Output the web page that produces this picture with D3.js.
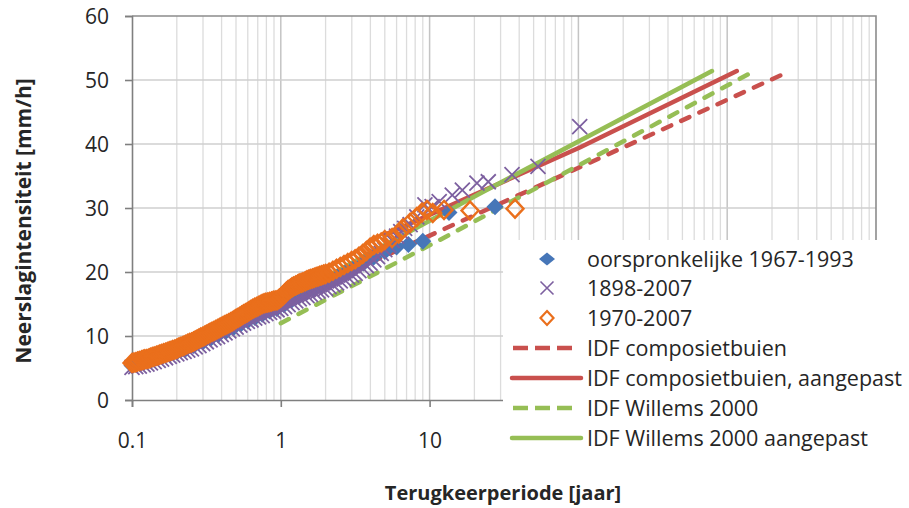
<!DOCTYPE html>
<html><head><meta charset="utf-8">
<script src="https://cdn.jsdelivr.net/npm/d3@7"></script>
<style>
body{margin:0;background:#fff}
svg text{font-family:"Open Sans","Liberation Sans",sans-serif;fill:#262626}
</style>
</head><body>
<svg id="chart" width="909" height="508"></svg>
<script>
// ---- data (return period T [jaar], intensity [mm/h]) ----
const seriesNames = ["oorspronkelijke 1967-1993","1898-2007","1970-2007","IDF composietbuien","IDF composietbuien, aangepast","IDF Willems 2000","IDF Willems 2000 aangepast"];

const origT = [0.10,0.12,0.14,0.16,0.18,0.20,0.23,0.26,0.30,0.34,0.38,0.43,0.48,0.54,0.60,0.67,0.75,0.84,0.94,1.05,1.18,1.32,1.48,1.66,1.86,2.1,2.4,2.7,3.1,3.6,4.2,5.0,6.0,7.2,9.0,13.5,27.5];
const origV = [5.4,5.9,6.4,6.8,7.2,7.5,8.0,8.5,9.1,9.7,10.2,10.8,11.3,11.9,12.4,12.9,13.4,13.9,14.3,14.9,15.6,16.2,16.8,17.4,17.9,18.5,19.2,19.8,20.6,21.4,22.3,23.2,23.9,24.3,24.8,29.3,30.2];

const longT = [0.100,0.106,0.112,0.119,0.126,0.133,0.141,0.150,0.158,0.168,0.178,0.188,0.200,0.211,0.224,0.237,0.251,0.266,0.282,0.299,0.316,0.335,0.355,0.376,0.398,0.422,0.447,0.473,0.501,0.531,0.562,0.596,0.631,0.668,0.708,0.750,0.794,0.841,0.891,0.944,1.00,1.06,1.12,1.19,1.26,1.33,1.41,1.50,1.58,1.68,1.78,1.88,2.00,2.11,2.24,2.37,2.51,2.66,2.82,2.99,3.16,3.35,3.55,3.76,3.98,4.22,4.47,4.73,5.0,5.3,5.6,6.0,6.4,6.8,7.4,8.2,9.3,10.4,11.6,14.2,16.6,20.8,24.8,35.8,53.5,102];
const longV = [5.1,5.2,5.3,5.5,5.6,5.8,6.0,6.2,6.4,6.6,6.8,7.0,7.2,7.4,7.6,7.8,8.0,8.3,8.5,8.8,9.1,9.4,9.7,9.9,10.2,10.5,10.8,11.1,11.4,11.7,12.0,12.3,12.5,12.8,13.0,13.2,13.5,13.7,13.9,14.1,14.3,14.6,14.9,15.2,15.5,15.8,16.0,16.3,16.5,16.8,17.0,17.2,17.4,17.7,18.0,18.3,18.6,18.9,19.2,19.5,19.8,20.2,20.6,21.0,21.4,21.9,22.4,22.9,23.5,24.2,24.9,25.6,26.3,26.8,27.4,28.6,30.5,30.2,31.0,32.0,32.8,33.9,34.1,35.2,36.5,42.7];

const recentT = [0.100,0.103,0.106,0.109,0.112,0.116,0.119,0.122,0.126,0.130,0.133,0.137,0.141,0.146,0.150,0.154,0.158,0.163,0.168,0.173,0.178,0.183,0.188,0.194,0.200,0.205,0.211,0.218,0.224,0.230,0.237,0.244,0.251,0.259,0.266,0.274,0.282,0.290,0.299,0.308,0.316,0.326,0.335,0.345,0.355,0.365,0.376,0.387,0.398,0.410,0.422,0.434,0.447,0.460,0.473,0.487,0.501,0.516,0.531,0.546,0.562,0.579,0.596,0.613,0.631,0.649,0.668,0.688,0.708,0.729,0.750,0.772,0.794,0.817,0.841,0.866,0.891,0.917,0.944,0.972,1.00,1.03,1.06,1.09,1.12,1.16,1.19,1.22,1.26,1.30,1.33,1.37,1.41,1.46,1.50,1.54,1.58,1.63,1.68,1.73,1.78,1.83,1.88,1.94,2.00,2.11,2.24,2.37,2.51,2.66,2.82,2.99,3.16,3.35,3.55,3.76,3.98,4.22,4.47,4.73,5.0,5.6,6.2,6.6,7.4,8.2,8.9,9.6,10.5,12.5,18.7,37.5];
const recentV = [5.8,5.85,5.9,6.0,6.1,6.2,6.3,6.35,6.4,6.5,6.6,6.7,6.8,6.9,7.0,7.1,7.2,7.3,7.4,7.5,7.6,7.7,7.8,7.9,8.0,8.15,8.3,8.4,8.5,8.65,8.8,8.9,9.0,9.15,9.3,9.45,9.6,9.75,9.9,10.05,10.2,10.35,10.5,10.65,10.8,10.95,11.1,11.25,11.4,11.55,11.7,11.85,12.0,12.15,12.3,12.5,12.7,12.85,13.0,13.2,13.4,13.55,13.7,13.9,14.1,14.25,14.4,14.55,14.7,14.85,15.0,15.1,15.2,15.25,15.3,15.4,15.5,15.55,15.6,15.8,16.0,16.3,16.6,16.9,17.2,17.4,17.6,17.75,17.9,18.05,18.2,18.3,18.4,18.55,18.7,18.8,18.9,19.0,19.1,19.2,19.3,19.4,19.5,19.6,19.7,19.9,20.2,20.5,20.8,21.1,21.4,21.7,22.0,22.4,22.8,23.3,23.8,24.2,24.4,24.6,25.0,25.3,26.0,26.8,27.7,28.6,29.3,29.7,29.2,29.7,29.6,29.9];

const compT = [1, 103, 2640];       const compV = [15.1, 36.4, 51.4];
const compAdjT = [5, 103, 1160];    const compAdjV = [25.8, 39.5, 51.4];
const willT = [1, 11.7, 1490];      const willV = [12.0, 25.0, 51.3];
const willAdjT = [2, 21.5, 790];    const willAdjV = [19.2, 32.2, 51.4];

const xTicks = [0.1, 1, 10, 100, 1000, 10000];
const xTickLabels = ["0.1", "1", "10"];
const yTicks = [0, 10, 20, 30, 40, 50, 60];

// ---- styles ----
const C = {blue:"#4676B8", purple:"#7D60A0", orange:"#EA6F1C", red:"#C9504D", green:"#96BE55"};

const svg = d3.select("#chart");
const x = d3.scaleLog().domain([0.1, 10000]).range([132, 876]);
const y = d3.scaleLinear().domain([0, 60]).range([400, 16]);

// grid
const grid = svg.append("g");
const minor = [];
[0.1, 1, 10, 100, 1000].forEach(d => { for (let k = 2; k <= 9; k++) minor.push(d * k); });
grid.selectAll(".vmin").data(minor).join("line")
  .attr("x1", d => x(d)).attr("x2", d => x(d)).attr("y1", y(60)).attr("y2", y(0))
  .attr("stroke", "#dcdcdc").attr("stroke-width", 1.3);
grid.selectAll(".vmaj").data([1, 10, 100, 1000]).join("line")
  .attr("x1", d => x(d)).attr("x2", d => x(d)).attr("y1", y(60)).attr("y2", y(0))
  .attr("stroke", "#c4c4c4").attr("stroke-width", 1.5);
grid.selectAll(".h").data(yTicks.slice(1, 6)).join("line")
  .attr("x1", x(0.1)).attr("x2", x(10000)).attr("y1", d => y(d)).attr("y2", d => y(d))
  .attr("stroke", "#cfcfcf").attr("stroke-width", 1.5);
svg.append("path").attr("d", `M${x(0.1)},${y(60)}H${x(10000)}V${y(0)}`)
  .attr("fill", "none").attr("stroke", "#8c8c8c").attr("stroke-width", 1.6);

// axes
const yAxis = d3.axisLeft(y).tickValues(yTicks).tickSize(7).tickPadding(16).tickFormat(d3.format("d"));
const gy = svg.append("g").attr("transform", `translate(${x(0.1)},0)`).call(yAxis);
const xAxis = d3.axisBottom(x).tickValues(xTicks).tickSize(7).tickPadding(26)
  .tickFormat((d, i) => xTickLabels[i] || "");
const gx = svg.append("g").attr("transform", `translate(0,${y(0)})`).call(xAxis);
[gx, gy].forEach(g => {
  g.select(".domain").attr("stroke", "#7f7f7f").attr("stroke-width", 1.6);
  g.selectAll(".tick line").attr("stroke", "#7f7f7f").attr("stroke-width", 1.6);
  g.selectAll(".tick text").style("font-size", "21px").attr("fill", "#3a3a3a");
});
gy.selectAll(".tick text").attr("dy", "0.36em");
gx.selectAll(".tick").filter((d, i) => !xTickLabels[i]).select("text").remove();

// IDF lines
const line = d3.line().x(d => x(d[0])).y(d => y(d[1]));
const lines = [
  {T: compT, V: compV, c: C.red, dash: "9,11"},
  {T: compAdjT, V: compAdjV, c: C.red, dash: null},
  {T: willT, V: willV, c: C.green, dash: "9,11"},
  {T: willAdjT, V: willAdjV, c: C.green, dash: null}
];
lines.forEach(l => {
  svg.append("path").datum(l.T.map((t, i) => [t, l.V[i]]))
    .attr("d", line).attr("fill", "none").attr("stroke", l.c).attr("stroke-width", 4.5)
    .attr("stroke-linecap", "round").attr("stroke-dasharray", l.dash);
});

// markers
function diamond(w, h) { return `M0,${-h}L${w},0L0,${h}L${-w},0Z`; }
function cross(s) { return `M${-s},${-s}L${s},${s}M${-s},${s}L${s},${-s}`; }

svg.append("g").selectAll("path").data(origT.map((t, i) => [t, origV[i]])).join("path")
  .attr("transform", d => `translate(${x(d[0])},${y(d[1])})`)
  .attr("d", diamond(8.5, 8.5)).attr("fill", C.blue);
svg.append("g").selectAll("path").data(longT.map((t, i) => [t, longV[i]])).join("path")
  .attr("transform", d => `translate(${x(d[0])},${y(d[1])})`)
  .attr("d", cross(7.5)).attr("fill", "none").attr("stroke", C.purple).attr("stroke-width", 1.8);
svg.append("g").selectAll("path").data(recentT.map((t, i) => [t, recentV[i]])).join("path")
  .attr("transform", d => `translate(${x(d[0])},${y(d[1])})`)
  .attr("d", diamond(8.5, 9)).attr("fill", "none").attr("stroke", C.orange).attr("stroke-width", 2.4);

// legend
const lg = svg.append("g");
lg.append("rect").attr("x", 503).attr("y", 240).attr("width", 406).attr("height", 222).attr("fill", "#fff");
const rowsY = [259, 288, 318, 348, 378, 408, 438];
const items = [
  {type: "diamond"}, {type: "cross"}, {type: "open"},
  {type: "line", c: C.red, dash: true}, {type: "line", c: C.red},
  {type: "line", c: C.green, dash: true}, {type: "line", c: C.green}
];
items.forEach((it, i) => {
  const cy = rowsY[i];
  const g = lg.append("g");
  if (it.type === "diamond") g.append("path").attr("transform", `translate(547,${cy})`).attr("d", diamond(8, 6.5)).attr("fill", C.blue);
  if (it.type === "cross") g.append("path").attr("transform", `translate(547,${cy})`).attr("d", cross(6.5)).attr("stroke", C.purple).attr("stroke-width", 1.6).attr("fill", "none");
  if (it.type === "open") g.append("path").attr("transform", `translate(547,${cy})`).attr("d", diamond(6.5, 7)).attr("stroke", C.orange).attr("stroke-width", 2.2).attr("fill", "none");
  if (it.type === "line") g.append("line").attr("x1", it.dash ? 513 : 512).attr("x2", it.dash ? 574 : 581)
    .attr("y1", cy).attr("y2", cy).attr("stroke", it.c).attr("stroke-width", 4.5)
    .attr("stroke-linecap", it.dash ? "butt" : "round").attr("stroke-dasharray", it.dash ? "15,7" : null);
  g.append("text").attr("x", 587).attr("y", cy).attr("dy", "0.35em")
    .style("font-size", "21.5px").text(seriesNames[i]);
});

// axis titles
svg.append("text").attr("x", 503).attr("y", 500).attr("text-anchor", "middle")
  .style("font-size", "20px").style("font-weight", "bold").attr("fill", "#1a1a1a").text("Terugkeerperiode [jaar]");
svg.append("text").attr("transform", "translate(31,221) rotate(-90)").attr("text-anchor", "middle")
  .style("font-size", "21px").style("font-weight", "bold").attr("fill", "#1a1a1a").text("Neerslagintensiteit [mm/h]");
</script>
</body></html>
